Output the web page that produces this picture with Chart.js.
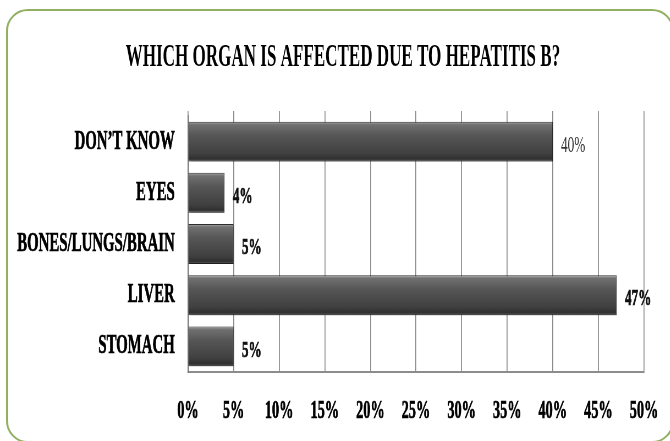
<!DOCTYPE html>
<html>
<head>
<meta charset="utf-8">
<script src="https://cdn.jsdelivr.net/npm/chart.js@4"></script>
<style>
  html, body { margin: 0; padding: 0; background: #fff; overflow: hidden; }
  body { width: 670px; height: 441px; position: relative; }
  #frame {
    position: absolute; left: 6px; top: 9px;
    width: 664px; height: 430px;
    border: 2.5px solid #92b062; border-radius: 22px;
    background: #fff;
  }
  /* condensed serif look: the chart is drawn wide and squeezed horizontally */
  #squeeze {
    position: absolute; left: 0; top: 0;
    transform: scaleX(0.55); transform-origin: 0 0;
  }
</style>
</head>
<body>
<div id="frame"></div>
<div id="squeeze"><canvas id="chart" width="1247" height="441"></canvas></div>
<script>
const categories = ["DON\u2019T KNOW", "EYES", "BONES/LUNGS/BRAIN", "LIVER", "STOMACH"];
const percentages = [40, 4, 5, 47, 5];
const xTickLabels = ["0%", "5%", "10%", "15%", "20%", "25%", "30%", "35%", "40%", "45%", "50%"];
const chartTitle = "WHICH ORGAN IS AFFECTED DUE TO HEPATITIS B?";

const SERIF = "'Liberation Serif', 'Times New Roman', serif";
const GRID = "#8c8c8c";

function barFill(ctx) {
  const chart = ctx.chart;
  const area = chart.chartArea;
  const y = chart.scales.y;
  if (!area || !y || ctx.dataIndex === undefined) return "#4a4a4a";
  const c = y.getPixelForValue(ctx.dataIndex);
  const h = (area.bottom - area.top) / categories.length * 0.78;
  const g = chart.ctx.createLinearGradient(0, c - h / 2, 0, c + h / 2);
  g.addColorStop(0, "#a8a8a8");
  g.addColorStop(0.08, "#707070");
  g.addColorStop(0.35, "#565656");
  g.addColorStop(0.8, "#404040");
  g.addColorStop(0.93, "#303030");
  g.addColorStop(1, "#5a5a5a");
  return g;
}

// soft drop shadow under the bars, then value labels at the bar ends
const barDecor = {
  id: "barDecor",
  beforeDatasetsDraw(chart) {
    const ctx = chart.ctx;
    ctx.save();
    ctx.shadowColor = "rgba(0,0,0,0.35)";
    ctx.shadowBlur = 4;
    ctx.shadowOffsetX = 2;
    ctx.shadowOffsetY = 3;
  },
  afterDatasetsDraw(chart) {
    const ctx = chart.ctx;
    ctx.restore();
    const meta = chart.getDatasetMeta(0);
    ctx.save();
    ctx.textAlign = "left";
    ctx.textBaseline = "middle";
    meta.data.forEach((bar, i) => {
      const first = i === 0;
      ctx.font = (first ? "normal " : "bold ") + "24px " + SERIF;
      ctx.fillStyle = first ? "#333" : "#111";
      ctx.fillText(percentages[i] + "%", bar.x + 15, bar.y + 4);
      if (!first) {
        ctx.lineWidth = 0.7;
        ctx.strokeStyle = "#111";
        ctx.strokeText(percentages[i] + "%", bar.x + 15, bar.y + 4);
      }
    });
    ctx.restore();
  }
};

new Chart(document.getElementById("chart"), {
  type: "bar",
  data: {
    labels: categories,
    datasets: [{
      data: percentages,
      backgroundColor: barFill,
      borderColor: "#2e2e2e",
      borderWidth: 1,
      borderSkipped: "start",
      barPercentage: 0.78,
      categoryPercentage: 1.0
    }]
  },
  plugins: [barDecor],
  options: {
    indexAxis: "y",
    responsive: false,
    animation: false,
    devicePixelRatio: 1,
    layout: { padding: 0 },
    plugins: {
      legend: { display: false },
      tooltip: { enabled: false },
      title: {
        display: true,
        text: chartTitle,
        color: "#000",
        font: { family: SERIF, size: 31, weight: "bold", lineHeight: 1.2 },
        padding: { top: 39, bottom: 10 }
      }
    },
    scales: {
      x: {
        type: "linear",
        position: "bottom",
        min: 0, max: 50,
        afterBuildTicks(scale) {
          scale.ticks = xTickLabels.map((t, i) => ({ value: i * 5 }));
        },
        afterFit(scale) { scale.height = 69; },
        grid: { display: true, color: GRID, lineWidth: 1.8, drawTicks: false },
        border: { display: true, color: GRID, width: 2 },
        ticks: {
          padding: 24,
          color: "#000",
          textStrokeColor: "#000",
          textStrokeWidth: 0.7,
          font: { family: SERIF, size: 26, weight: "bold" },
          callback: (v, i) => xTickLabels[i]
        }
      },
      x2: {
        type: "linear",
        position: "top",
        min: 0, max: 50,
        afterBuildTicks(scale) {
          scale.ticks = xTickLabels.map((t, i) => ({ value: i * 5 }));
        },
        afterFit(scale) { scale.height = 116 - 39 - 37.2 - 10; },
        grid: { display: true, drawOnChartArea: false, drawTicks: true, tickLength: 5, color: GRID, lineWidth: 1.8 },
        border: { display: false },
        ticks: { display: false }
      },
      y: {
        position: "left",
        afterFit(scale) { scale.width = 341.8; },
        grid: { display: false, drawTicks: false },
        border: { display: true, color: "#6e6e6e", width: 2 },
        ticks: {
          padding: 24,
          color: "#000",
          textStrokeColor: "#000",
          textStrokeWidth: 0.7,
          font: { family: SERIF, size: 27, weight: "bold" }
        }
      },
      yRight: {
        type: "category",
        position: "right",
        labels: categories,
        afterFit(scale) { scale.width = 76.1; },
        grid: { display: false, drawTicks: false },
        border: { display: false },
        ticks: { display: false }
      }
    }
  }
});
</script>
</body>
</html>
